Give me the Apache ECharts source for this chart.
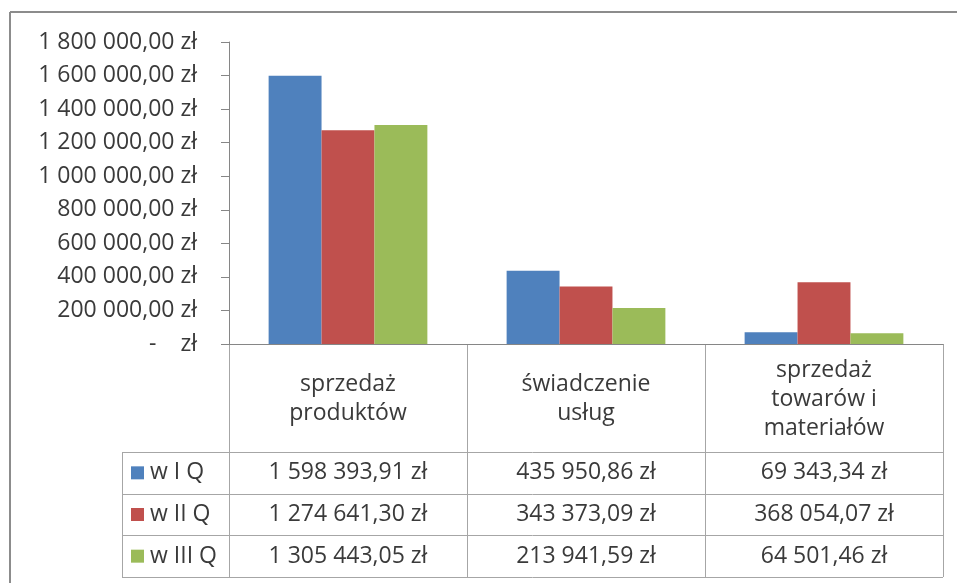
<!DOCTYPE html>
<html>
<head>
<meta charset="utf-8">
<script src="https://cdn.jsdelivr.net/npm/echarts@6/dist/echarts.min.js"></script>
<style>
  html, body { margin: 0; padding: 0; background: #fff; }
  #chart { width: 957px; height: 583px; }
</style>
</head>
<body>
<div id="chart"></div>
<script>
// Revenue by source, per quarter (PLN)
const categories = ['sprzedaż\nproduktów', 'świadczenie\nusług', 'sprzedaż\ntowarów i\nmateriałów'];
const seriesNames = ['w I Q', 'w II Q', 'w III Q'];
const q1 = [1598393.91, 435950.86, 69343.34];
const q2 = [1274641.30, 343373.09, 368054.07];
const q3 = [1305443.05, 213941.59, 64501.46];
const yMin = 0;
const yMax = 1800000;
const yStep = 200000;

const seriesValues = [q1, q2, q3];
const colors = ['#4F81BD', '#C0504D', '#9BBB59'];
const textColor = '#3A3A3A';
const fontFamily = '"Open Sans", "Noto Sans", sans-serif';
const fontSize = 23;

// Polish accounting style: "1 598 393,91 zł", zero shown as "-  zł"
function pln(v) {
  if (v === 0) return '-    zł';
  const parts = v.toFixed(2).split('.');
  return parts[0].replace(/\B(?=(\d{3})+(?!\d))/g, ' ') + ',' + parts[1] + ' zł';
}

// Plot and table geometry
const plotLeft = 229, plotRight = 943, plotTop = 42, plotBottom = 344;
const headerBottom = 452, tableBottom = 577, legendLeft = 122;
const rowH = (tableBottom - headerBottom) / seriesNames.length;
const colW = (plotRight - plotLeft) / categories.length;
const lineColor = '#A6A6A6';

const graphics = [];
function hline(y, x1, x2) {
  graphics.push({ type: 'line', silent: true, shape: { x1: x1, y1: y, x2: x2, y2: y },
    style: { stroke: lineColor, lineWidth: 1 } });
}
function vline(x, y1, y2) {
  graphics.push({ type: 'line', silent: true, shape: { x1: x, y1: y1, x2: x, y2: y2 },
    style: { stroke: lineColor, lineWidth: 1 } });
}
function text(str, x, y, align) {
  graphics.push({ type: 'text', silent: true, x: x, y: y,
    style: { text: str, fill: textColor, font: fontSize + 'px ' + fontFamily,
      align: align || 'center', verticalAlign: 'middle', lineHeight: 29 } });
}

// Outer frame (top and left edges)
graphics.push({ type: 'line', silent: true, shape: { x1: 10, y1: 12, x2: 957, y2: 12 },
  style: { stroke: '#8C8C8C', lineWidth: 2 } });
graphics.push({ type: 'line', silent: true, shape: { x1: 10, y1: 12, x2: 10, y2: 583 },
  style: { stroke: '#8C8C8C', lineWidth: 2 } });

// Data table grid
for (let r = 0; r <= seriesNames.length; r++) {
  hline(Math.round(headerBottom + r * rowH) + 0.5, legendLeft, plotRight);
}
vline(legendLeft + 0.5, headerBottom, tableBottom);
vline(plotLeft + 0.5, plotBottom, tableBottom);
for (let c = 1; c <= categories.length; c++) {
  vline(Math.round(plotLeft + c * colW) + 0.5, plotBottom, tableBottom);
}

// Header row: category names
categories.forEach(function (cat, c) {
  text(cat, plotLeft + (c + 0.5) * colW, (plotBottom + headerBottom) / 2 + 1);
});

// Series rows: legend key + values
seriesNames.forEach(function (name, r) {
  const cy = headerBottom + (r + 0.5) * rowH;
  graphics.push({ type: 'rect', silent: true,
    shape: { x: 131, y: cy - 6.5, width: 13, height: 13 },
    style: { fill: colors[r] } });
  text(name, 150, cy, 'left');
  seriesValues[r].forEach(function (v, c) {
    text(pln(v), plotLeft + (c + 0.5) * colW, cy);
  });
});

const chart = echarts.init(document.getElementById('chart'), null, { renderer: 'canvas' });
chart.setOption({
  animation: false,
  backgroundColor: '#fff',
  grid: { left: plotLeft, right: 957 - plotRight, top: plotTop, bottom: 583 - plotBottom, containLabel: false },
  xAxis: {
    type: 'category',
    data: categories,
    axisLine: { show: true, lineStyle: { color: '#868686', width: 1 } },
    axisTick: { show: false },
    axisLabel: { show: false },
    splitLine: { show: false }
  },
  yAxis: {
    type: 'value',
    min: yMin,
    max: yMax,
    interval: yStep,
    axisLine: { show: true, lineStyle: { color: '#868686', width: 1 } },
    axisTick: { show: true, length: 8, lineStyle: { color: '#868686' } },
    splitLine: { show: false },
    axisLabel: {
      margin: 32,
      color: textColor,
      fontFamily: fontFamily,
      fontSize: fontSize,
      formatter: pln
    }
  },
  series: seriesNames.map(function (name, i) {
    return {
      name: name,
      type: 'bar',
      data: seriesValues[i],
      barGap: '0%',
      barCategoryGap: '33.3%',
      itemStyle: { color: colors[i] }
    };
  }),
  graphic: graphics
});
</script>
</body>
</html>
